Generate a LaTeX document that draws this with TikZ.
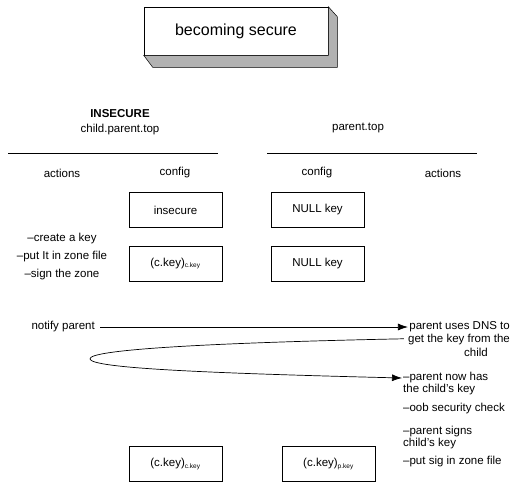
\documentclass[tikz,border=0pt]{standalone}
\usepackage{fontspec}
\setmainfont{Liberation Sans}
\usetikzlibrary{arrows.meta,positioning,calc}
\newcommand{\keysub}[1]{\textsubscript{\fontsize{6.5}{6.5}\selectfont #1}}
\tikzset{
    titlebox/.style={draw, rectangle, fill=white, line width=0.6pt, minimum width=184pt, minimum height=48pt, font=\fontsize{16}{18}\selectfont},
    shadowband/.style={fill=gray!60, draw=black, line width=0.5pt},
    header/.style={font=\fontsize{11.5}{15}\selectfont, align=center},
    colhead/.style={font=\fontsize{11.5}{13}\selectfont},
    config/.style={draw, rectangle, line width=0.6pt, minimum width=93pt, minimum height=35pt, font=\fontsize{11.5}{13}\selectfont},
    action/.style={font=\fontsize{11.5}{12}\selectfont, inner sep=0pt},
    divider/.style={line width=0.9pt},
    arrow/.style={-{Latex[length=10pt,width=7pt]}, line width=0.7pt}
}
\begin{document}
\begin{tikzpicture}[x=1pt, y=-1pt]
        \useasboundingbox (0,0) rectangle (510,484);

        % Title
        \node[titlebox] (title) at (236,31) {becoming secure};
        \filldraw[shadowband] (title.north east) -- ($(title.north east)+(9,10)$) -- ($(title.south east)+(9,12)$)
            -- ($(title.south west)+(9,12)$) -- (title.south west) -- (title.south east) -- cycle;

        % Zones
        \node[header] (child) at (120,122) {\textbf{INSECURE}\\child.parent.top};
        \node[header] (parent) at (358,128) {parent.top};
        \draw[divider] (8,153) -- (218,153);
        \draw[divider] (267,153) -- (477,153);

        % Column titles
        \node[colhead] (cact) at (62,173) {actions};
        \node[colhead] (ccfg) at (175,173) {config};
        \node[colhead] (pcfg) at (317,173) {config};
        \node[colhead] (pact) at (443,173) {actions};

        % Config boxes
        \node[config] (insecure) at (175.5,210) {insecure};
        \node[config] (ckey) at (175.5,263.5) {(c.key)\keysub{c.key}};
        \node[config] (null1) at (317.5,210) {NULL key};
        \node[config] (null2) at (317.5,263.5) {NULL key};
        \node[config] (ckeyc) at (175.5,464) {(c.key)\keysub{c.key}};
        \node[config] (ckeyp) at (328.5,464) {(c.key)\keysub{p.key}};

        % Child actions
        \node[action, align=center, font=\fontsize{11.5}{18}\selectfont] (create) at (62,257) {--create a key\\--put It in zone file\\--sign the zone};
        \node[action, anchor=east] (notify) at (95,327) {notify parent};

        % Parent actions
        \node[action, align=right, anchor=north east, font=\fontsize{11.5}{13.5}\selectfont] (dns) at (510,321) {parent uses DNS to\\get the key from the\\child\hspace*{22pt}};
        \node[action, align=left, anchor=north west] (has) at (403,372) {--parent now has\\the child's key};
        \node[action, anchor=west] (oob) at (403,409) {--oob security check};
        \node[action, align=left, anchor=north west] (signs) at (403,426) {--parent signs\\child's key};
        \node[action, anchor=west] (putsig) at (403,462) {--put sig in zone file};

        % Key transfer
        \coordinate (turn) at (90,359);
        \draw[arrow] (notify.east) ++(5,0) -- (notify.east -| dns.west);
        \draw[arrow] ([xshift=-4pt]dns.west) .. controls (200,343) and (88,350) .. (turn)
            .. controls (92,368) and (200,373) .. ([xshift=-1pt, yshift=-6pt]has.north west);
    \end{tikzpicture}
\end{document}
